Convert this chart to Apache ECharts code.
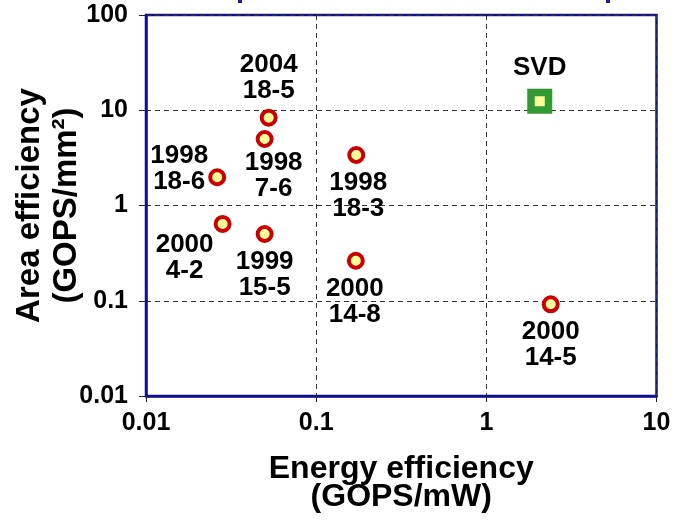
<!DOCTYPE html>
<html>
<head>
<meta charset="utf-8">
<script src="https://cdn.jsdelivr.net/npm/echarts@6/dist/echarts.min.js"></script>
<style>
html,body{margin:0;padding:0;background:#fff;}
#chart{width:677px;height:525px;}
</style>
</head>
<body>
<div id="chart"></div>
<script>
// Data
const chipLabels = ['2004\n18-5', '1998\n7-6', '1998\n18-6', '1998\n18-3', '2000\n4-2', '1999\n15-5', '2000\n14-8', '2000\n14-5'];
const energyEff = [0.0526, 0.0498, 0.0262, 0.172, 0.0282, 0.0498, 0.171, 2.39];
const areaEff = [8.35, 4.99, 1.98, 3.39, 0.64, 0.502, 0.263, 0.0918];
const svdLabel = ['SVD'];
const svdEnergy = [2.06];
const svdArea = [12.4];
const xTicks = [0.01, 0.1, 1, 10];
const yTicks = [0.01, 0.1, 1, 10, 100];

// label placement (style only): offset of label centre from the marker
const labelOffsets = [[0, -40], [9, 37], [-38, -8], [2, 41], [-38, 34], [0, 41], [-1, 41], [0, 41]];
const svdOffset = [0, -34];

const FONT = 'Liberation Sans, Arial, sans-serif';
const AXIS_BLUE = '#10108f';

const fmt = v => String(parseFloat(Number(v).toPrecision(3)));

const chipData = energyEff.map((x, i) => ({
  value: [x, areaEff[i]],
  name: chipLabels[i],
  label: { offset: labelOffsets[i] }
}));
const svdData = svdEnergy.map((x, i) => ({
  value: [x, svdArea[i]],
  name: svdLabel[i],
  label: { offset: svdOffset }
}));

const chart = echarts.init(document.getElementById('chart'), null, { renderer: 'canvas' });
chart.setOption({
  animation: false,
  backgroundColor: '#ffffff',
  grid: {
    left: 146, right: 20.5, top: 15, bottom: 129,
    containLabel: false, outerBoundsMode: 'none',
    show: true, borderColor: AXIS_BLUE, borderWidth: 2.5, backgroundColor: 'transparent'
  },
  xAxis: {
    type: 'log', logBase: 10,
    min: xTicks[0], max: xTicks[xTicks.length - 1],
    name: 'Energy efficiency\n(GOPS/mW)',
    nameLocation: 'middle', nameGap: 59, nameMoveOverlap: false,
    nameTextStyle: { fontFamily: FONT, fontWeight: 'bold', fontSize: 32, lineHeight: 28, color: '#000' },
    axisLine: { show: true, lineStyle: { color: AXIS_BLUE, width: 2.5 } },
    axisTick: { show: true, inside: false, length: 6, lineStyle: { color: '#222', width: 1 } },
    minorTick: { show: false },
    axisLabel: { margin: 15, fontFamily: FONT, fontWeight: 'bold', fontSize: 25, color: '#000', formatter: fmt },
    splitLine: { show: true, lineStyle: { color: '#333', type: [5, 4], width: 1 } }
  },
  yAxis: {
    type: 'log', logBase: 10,
    min: yTicks[0], max: yTicks[yTicks.length - 1],
    name: 'Area efficiency\n(GOPS/mm²)',
    nameLocation: 'middle', nameGap: 61, nameRotate: 90, nameMoveOverlap: false,
    nameTextStyle: { fontFamily: FONT, fontWeight: 'bold', fontSize: 33, lineHeight: 37, color: '#000' },
    axisLine: { show: true, lineStyle: { color: AXIS_BLUE, width: 2.5 } },
    axisTick: { show: true, inside: false, length: 7, lineStyle: { color: '#222', width: 1 } },
    axisLabel: { margin: 18, fontFamily: FONT, fontWeight: 'bold', fontSize: 25, color: '#000', formatter: fmt, padding: [6, 0, 0, 0] },
    splitLine: { show: true, lineStyle: { color: '#333', type: [5, 4], width: 1 } }
  },
  series: [
    {
      type: 'scatter',
      data: chipData,
      symbol: 'circle',
      symbolSize: 14,
      itemStyle: { color: '#ffff99', borderColor: '#cc0000', borderWidth: 4, opacity: 1 },
      label: {
        show: true, position: 'inside', align: 'center', verticalAlign: 'middle',
        formatter: p => p.name,
        fontFamily: FONT, fontWeight: 'bold', fontSize: 26, lineHeight: 26, color: '#000'
      },
      z: 3
    },
    {
      type: 'scatter',
      data: svdData,
      symbol: 'rect',
      symbolSize: 17.5,
      itemStyle: { color: '#ffff99', borderColor: '#339933', borderWidth: 7.5, opacity: 1 },
      label: {
        show: true, position: 'inside', align: 'center', verticalAlign: 'middle',
        formatter: p => p.name,
        fontFamily: FONT, fontWeight: 'bold', fontSize: 26, lineHeight: 26, color: '#000'
      },
      z: 3
    }
  ],
  graphic: [
    { type: 'rect', left: 238, top: 0, shape: { width: 4, height: 3 }, style: { fill: '#1a1ab0' } },
    { type: 'rect', left: 606, top: 0, shape: { width: 4, height: 3 }, style: { fill: '#1a1ab0' } }
  ]
});
</script>
</body>
</html>
